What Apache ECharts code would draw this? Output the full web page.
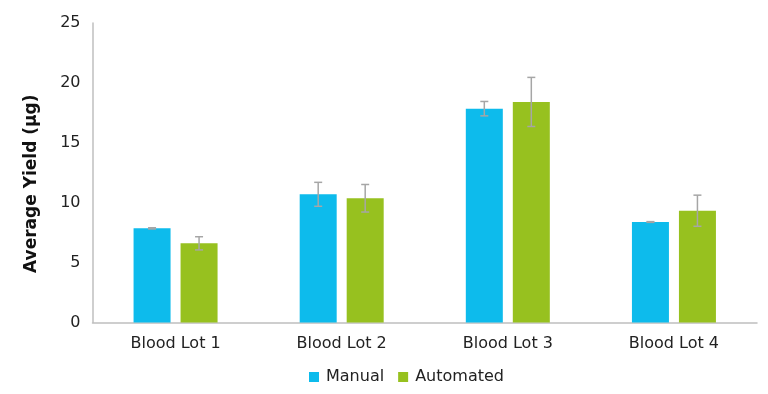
<!DOCTYPE html>
<html><head><meta charset="utf-8">
<script src="https://cdn.jsdelivr.net/npm/echarts@6/dist/echarts.min.js"></script>
<style>html,body{margin:0;padding:0;background:#fff}#c{width:768px;height:394px}</style>
</head><body><div id="c"></div>
<script>
const categories = ['Blood Lot 1', 'Blood Lot 2', 'Blood Lot 3', 'Blood Lot 4'];
const manual = [7.86, 10.7, 17.85, 8.39];
const manualErr = [0.05, 1.0, 0.6, 0.03];
const automated = [6.61, 10.37, 18.41, 9.33];
const automatedErr = [0.55, 1.15, 2.05, 1.3];
const yTicks = [0, 5, 10, 15, 20, 25];

const font = '"DejaVu Sans", sans-serif';
const chart = echarts.init(document.getElementById('c'));
const barWidth = 37, barGapPx = 10;

function errSeries(vals, errs, sign) {
  return {
    type: 'custom',
    silent: true,
    z: 10,
    data: vals.map((v, i) => [i, v - errs[i], v + errs[i]]),
    renderItem: function (params, api) {
      const idx = api.value(0);
      const lo = api.coord([idx, api.value(1)]);
      const hi = api.coord([idx, api.value(2)]);
      const x = lo[0] + sign * (barWidth + barGapPx) / 2;
      const style = { stroke: '#a6a6a6', lineWidth: 1.5 };
      const cap = 4;
      return {
        type: 'group',
        children: [
          { type: 'line', shape: { x1: x, y1: lo[1], x2: x, y2: hi[1] }, style },
          { type: 'line', shape: { x1: x - cap, y1: lo[1], x2: x + cap, y2: lo[1] }, style },
          { type: 'line', shape: { x1: x - cap, y1: hi[1], x2: x + cap, y2: hi[1] }, style }
        ]
      };
    }
  };
}

chart.setOption({
  animation: false,
  grid: { left: 92.5, right: 11, top: 23, bottom: 71.5 },
  legend: {
    data: ['Manual', 'Automated'],
    bottom: 4,
    left: 304,
    itemWidth: 10, itemHeight: 10, itemGap: 14,
    icon: 'rect',
    textStyle: { fontFamily: font, fontSize: 16, color: '#222', padding: [0, 0, 0, 2] }
  },
  xAxis: {
    type: 'category',
    data: categories,
    axisLine: { lineStyle: { color: '#bfbfbf', width: 1.5 } },
    axisTick: { show: false },
    axisLabel: { fontFamily: font, fontSize: 16, color: '#222', margin: 13 }
  },
  yAxis: {
    type: 'value',
    min: yTicks[0], max: yTicks[yTicks.length - 1], interval: 5,
    name: 'Average Yield (µg)',
    nameLocation: 'middle',
    nameGap: 52,
    nameTextStyle: { fontFamily: font, fontSize: 17, fontWeight: 'bold', color: '#111', padding: [0, 22, 0, 0] },
    axisLine: { show: true, lineStyle: { color: '#bfbfbf', width: 1.5 } },
    axisTick: { show: false },
    splitLine: { show: false },
    axisLabel: { fontFamily: font, fontSize: 16, color: '#222', margin: 12 }
  },
  series: [
    { name: 'Manual', type: 'bar', data: manual, barWidth: barWidth, barGap: (barGapPx / barWidth * 100) + '%',
      itemStyle: { color: '#0dbbec' } },
    { name: 'Automated', type: 'bar', data: automated, barWidth: barWidth,
      itemStyle: { color: '#97c11f' } },
    errSeries(manual, manualErr, -1),
    errSeries(automated, automatedErr, 1)
  ]
});
</script></body></html>
